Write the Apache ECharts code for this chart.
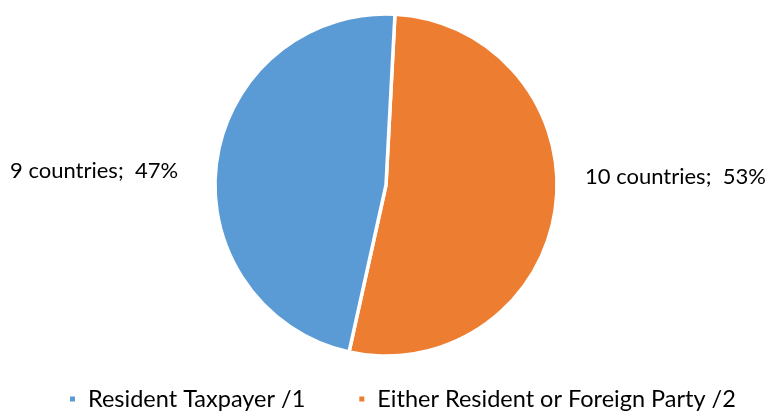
<!DOCTYPE html>
<html>
<head>
<meta charset="utf-8">
<script src="https://cdn.jsdelivr.net/npm/echarts@6/dist/echarts.min.js"></script>
<style>
  html, body { margin: 0; padding: 0; background: #fff; }
  #chart { width: 771px; height: 411px; }
</style>
</head>
<body>
<div id="chart"></div>
<script>
// Share of countries by party responsible
const categories = ['Either Resident or Foreign Party /2', 'Resident Taxpayer /1'];
const countries = [10, 9];
const legendOrder = ['Resident Taxpayer /1', 'Either Resident or Foreign Party /2'];
const colors = ['#ED7D31', '#5B9BD5'];

const FONT = 'Lato, "Liberation Sans", sans-serif';

const chart = echarts.init(document.getElementById('chart'));
const total = countries.reduce((a, b) => a + b, 0);

chart.setOption({
  animation: false,
  color: colors,
  legend: {
    data: legendOrder,
    top: 382,
    left: 63,
    icon: 'rect',
    itemWidth: 7,
    itemHeight: 7,
    itemGap: 52,
    textStyle: { fontFamily: FONT, fontSize: 23.5, color: '#000', padding: [0, 0, 0, 7] }
  },
  series: [{
    type: 'pie',
    center: [386, 185],
    radius: [0, 171],
    startAngle: 87,
    clockwise: true,
    data: categories.map((name, i) => ({ name, value: countries[i] })),
    itemStyle: { borderColor: '#fff', borderWidth: 3.5 },
    label: {
      show: true,
      position: 'outside',
      overflow: 'none',
      width: 300,
      fontFamily: FONT,
      fontSize: 22,
      color: '#000',
      formatter: p => p.value + ' countries;  ' + Math.round(p.value / total * 100) + '%'
    },
    labelLine: { show: false },
    labelLayout: p => p.dataIndex === 0
      ? { x: 585, y: 177, align: 'left', verticalAlign: 'middle' }
      : { x: 10, y: 171, align: 'left', verticalAlign: 'middle' }
  }]
});
</script>
</body>
</html>
